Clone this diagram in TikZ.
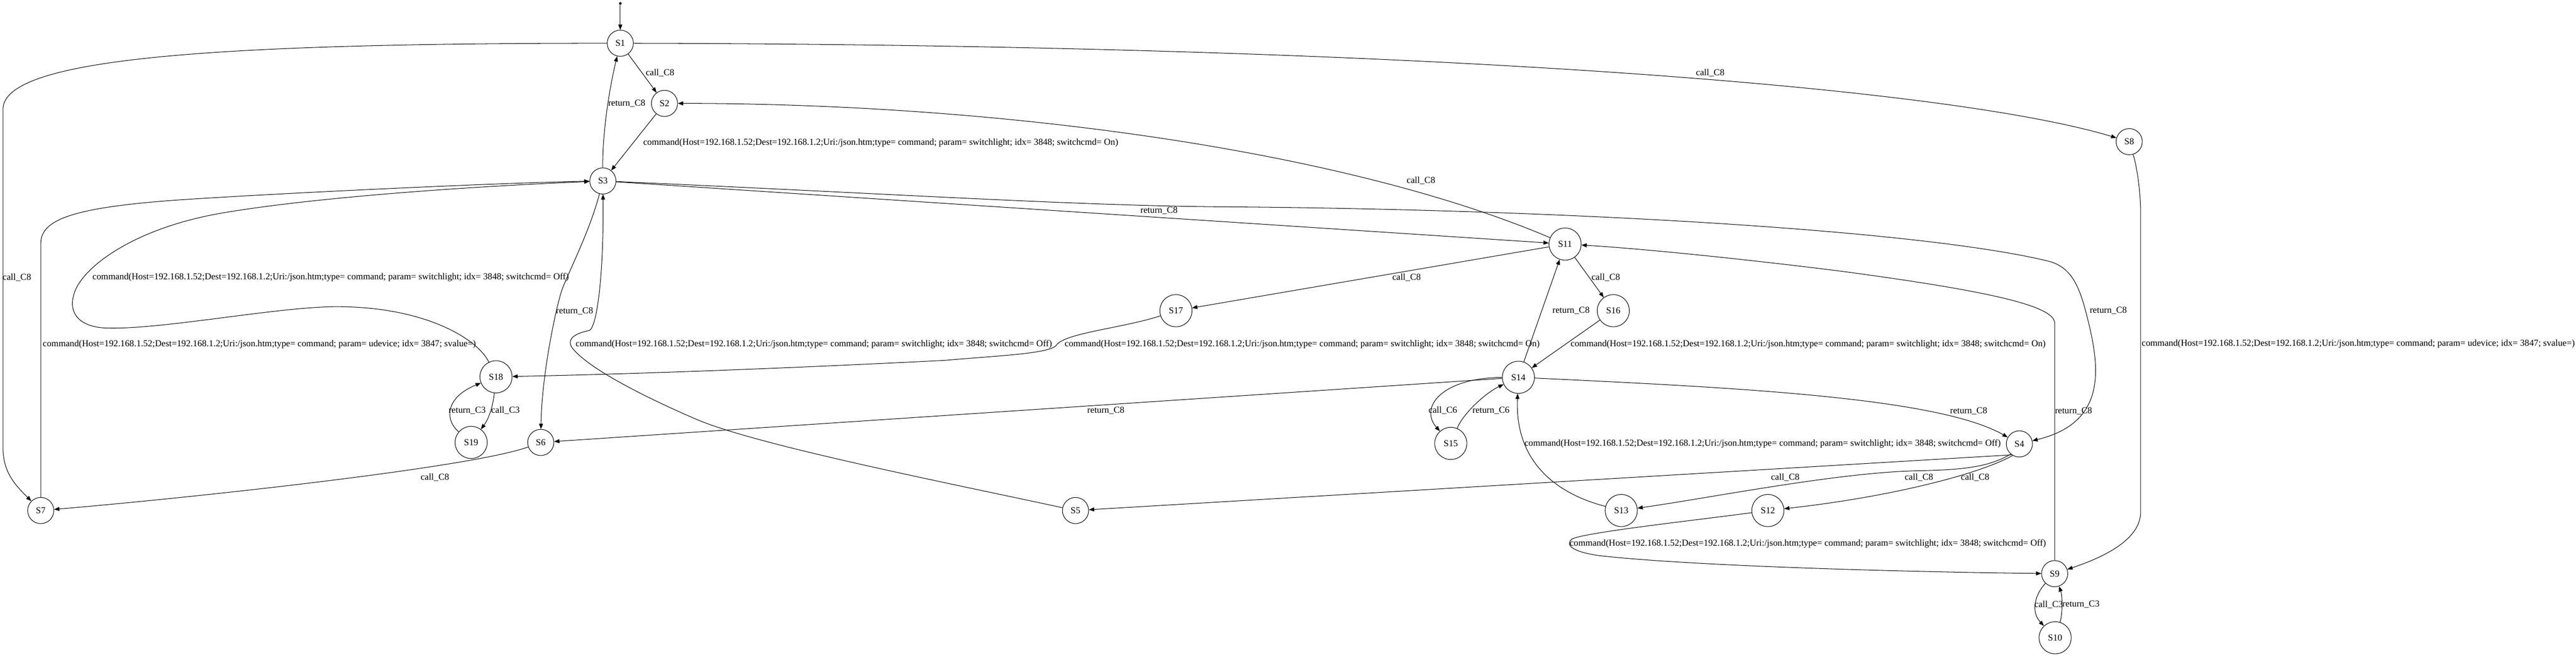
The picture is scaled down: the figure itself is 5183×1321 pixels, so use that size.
\documentclass[tikz,border=0pt]{standalone}
\usepackage{fontspec}
\setmainfont{Liberation Serif}
\usetikzlibrary{arrows.meta}
\newcommand{\lbl}{\fontsize{13.8pt}{16pt}\selectfont}
\newcommand{\cmdOn}{command(Host=192.168.1.52;Dest=192.168.1.2;Uri:/json.htm;type= command; param= switchlight; idx= 3848; switchcmd= On)}
\newcommand{\cmdOff}{command(Host=192.168.1.52;Dest=192.168.1.2;Uri:/json.htm;type= command; param= switchlight; idx= 3848; switchcmd= Off)}
\newcommand{\cmdUd}{command(Host=192.168.1.52;Dest=192.168.1.2;Uri:/json.htm;type= command; param= udevice; idx= 3847; svalue=)}
\begin{document}
\begin{tikzpicture}[x=0.75pt,y=-0.75pt,
  st/.style={circle,draw,line width=0.8pt,inner sep=0pt,minimum size=39.5pt,font=\lbl},
  stw/.style={st,minimum size=48.5pt},
  edge/.style={draw,line width=0.8pt,-{Triangle[length=8pt,width=6pt]}},
  lab/.style={inner sep=0pt,font=\lbl},
  labw/.style={lab,anchor=west}]
\useasboundingbox (0,0) rectangle (5183,1321);
\fill[white] (0,0) rectangle (5183,1321);
% states
\node[circle,fill,inner sep=0pt,minimum size=4pt] (init) at (1248,7) {};
\node[st] (S1) at (1248,87) {S1};
\node[st] (S2) at (1337,208) {S2};
\node[st] (S3) at (1213,364) {S3};
\node[st] (S4) at (4063,893) {S4};
\node[st] (S5) at (2164,1027) {S5};
\node[st] (S6) at (1088,890) {S6};
\node[st] (S7) at (82,1027) {S7};
\node[st] (S8) at (4284,285) {S8};
\node[st] (S9) at (4134,1154) {S9};
\node[stw] (S10) at (4135,1283) {S10};
\node[stw] (S11) at (3149,491) {S11};
\node[stw] (S12) at (3557,1027) {S12};
\node[stw] (S13) at (3262,1027) {S13};
\node[stw] (S14) at (3055,759) {S14};
\node[stw] (S15) at (2919,892) {S15};
\node[stw] (S16) at (3246,625) {S16};
\node[stw] (S17) at (2366,625) {S17};
\node[stw] (S18) at (998,758) {S18};
\node[stw] (S19) at (948,890) {S19};
% labels
\node[lab] (l1) at (1328,147) {call\_C8};
\node[labw] (l2) at (1294,287) {\cmdOn};
\node[lab] (l3) at (1261,208) {return\_C8};
\node[lab] (l4) at (34,558) {call\_C8};
\node[lab] (l5) at (3441,147) {call\_C8};
\node[labw] (l6) at (86,693) {\cmdUd};
\node[labw] (l7) at (4309,692) {\cmdUd};
\node[lab] (l8) at (1156,626) {return\_C8};
\node[lab] (l9) at (2332,424) {return\_C8};
\node[lab] (l10) at (4242,625) {return\_C8};
\node[lab] (l11) at (2859,363) {call\_C8};
\node[lab] (l12) at (2830,558) {call\_C8};
\node[lab] (l13) at (3231,558) {call\_C8};
\node[labw] (l14) at (2142,693) {\cmdOn};
\node[labw] (l15) at (3160,693) {\cmdOn};
\node[labw] (l16) at (186,558) {\cmdOff};
\node[lab] (l17) at (1017,826) {call\_C3};
\node[lab] (l18) at (940,826) {return\_C3};
\node[lab] (l19) at (875,960) {call\_C8};
\node[lab] (l20) at (3161,625) {return\_C8};
\node[lab] (l21) at (2225,826) {return\_C8};
\node[lab] (l22) at (3961,827) {return\_C8};
\node[lab] (l23) at (2903,826) {call\_C6};
\node[lab] (l24) at (3000,826) {return\_C6};
\node[labw] (l25) at (1158,693) {\cmdOff};
\node[labw] (l26) at (3067,893) {\cmdOff};
\node[lab] (l27) at (3592,960) {call\_C8};
\node[lab] (l28) at (3861,960) {call\_C8};
\node[lab] (l29) at (3974,960) {call\_C8};
\node[labw] (l30) at (3158,1094) {\cmdOff};
\node[lab] (l31) at (4172,827) {return\_C8};
\node[lab] (l32) at (4122,1216) {call\_C3};
\node[lab] (l33) at (4187,1216) {return\_C3};
% transitions
\draw[edge] (init) -- (S1);
\draw[edge] (S1) -- (S2);
\draw[edge] (S2) -- (S3);
\draw[edge] (S3) .. controls (1212,260) and (1228,170) .. (S1);
\draw[edge] (S1) .. controls (400,87) and (6,120) .. (6,220) -- (6,900) .. controls (6,950) and (30,975) .. (S7);
\draw[edge] (S1) .. controls (2800,90) and (3900,170) .. (S8);
\draw[edge] (S7) -- (82,490) .. controls (82,440) and (150,415) .. (393,400) .. controls (600,387) and (1000,368) .. (S3);
\draw[edge] (S8) .. controls (4298,330) and (4307,380) .. (4307,430) -- (4307,1030) .. controls (4307,1090) and (4220,1125) .. (S9);
\draw[edge] (S3) .. controls (1185,470) and (1140,555) .. (1130,585) .. controls (1120,615) and (1090,750) .. (S6);
\draw[edge] (S3) -- (S11);
\draw[edge] (S3) .. controls (1800,390) and (2150,413) .. (2450,416) .. controls (3100,420) and (3850,460) .. (4120,525) .. controls (4170,537) and (4185,580) .. (4200,640) .. controls (4225,740) and (4240,850) .. (S4);
\draw[edge] (S11) .. controls (2700,300) and (2000,208) .. (S2);
\draw[edge] (S11) -- (S17);
\draw[edge] (S11) -- (S16);
\draw[edge] (S17) .. controls (2260,660) and (2140,670) .. (2125,695) .. controls (2110,712) and (2000,716) .. (1900,725) .. controls (1600,740) and (1300,752) .. (S18);
\draw[edge] (S16) -- (S14);
\draw[edge] (S18) .. controls (960,680) and (850,615) .. (670,617) .. controls (550,619) and (330,662) .. (220,660) .. controls (160,660) and (138,630) .. (148,595) .. controls (158,545) and (260,460) .. (450,428) .. controls (640,396) and (950,375) .. (S3);
\draw[edge] (S18) .. controls (992,815) and (985,840) .. (S19);
\draw[edge] (S19) .. controls (895,845) and (895,800) .. (S18);
\draw[edge] (S6) .. controls (950,940) and (400,1000) .. (S7);
\draw[edge] (S14) -- (S11);
\draw[edge] (S14) -- (S6);
\draw[edge] (S14) .. controls (3500,780) and (3900,800) .. (S4);
\draw[edge] (S14) .. controls (2900,760) and (2855,820) .. (S15);
\draw[edge] (S15) .. controls (2945,830) and (2990,790) .. (S14);
\draw[edge] (S5) .. controls (1900,970) and (1520,895) .. (1400,843) .. controls (1300,800) and (1180,740) .. (1150,698) .. controls (1140,680) and (1160,670) .. (1185,665) .. controls (1200,662) and (1215,560) .. (S3);
\draw[edge] (S13) .. controls (3120,990) and (3048,920) .. (S14);
\draw[edge] (S4.-125) -- (S5);
\draw[edge] (S4.-130) .. controls (4000,940) and (3950,945) .. (3860,947) .. controls (3700,950) and (3450,1000) .. (S13);
\draw[edge] (S4.-120) .. controls (3980,955) and (3800,1000) .. (S12);
\draw[edge] (S12) .. controls (3400,1048) and (3180,1072) .. (3162,1085) .. controls (3150,1095) and (3160,1110) .. (3220,1118) .. controls (3400,1138) and (3800,1150) .. (S9);
\draw[edge] (S9) -- (4134,650) .. controls (4134,615) and (4000,585) .. (3700,545) .. controls (3500,520) and (3300,500) .. (S11);
\draw[edge] (S9) .. controls (4095,1195) and (4085,1230) .. (S10);
\draw[edge] (S10) .. controls (4150,1235) and (4150,1200) .. (S9);
\end{tikzpicture}
\end{document}
